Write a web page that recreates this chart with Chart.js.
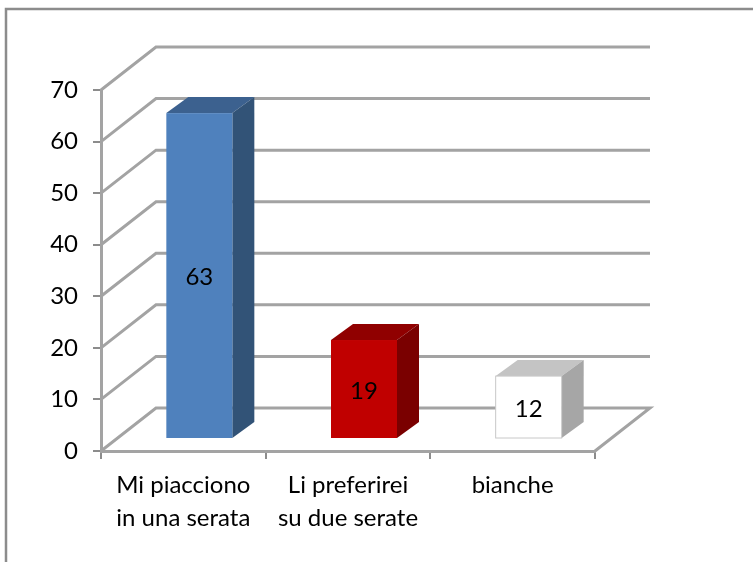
<!DOCTYPE html>
<html>
<head>
<meta charset="utf-8">
<style>
  html, body { margin: 0; padding: 0; background: #fff; }
  #wrap { position: absolute; left: 0; top: 0; width: 753px; height: 562px; }
</style>
<script src="https://cdn.jsdelivr.net/npm/chart.js@4"></script>
</head>
<body>
<div id="wrap"><canvas id="chart" width="753" height="562"></canvas></div>
<script>
const categories = [['Mi piacciono', 'in una serata'], ['Li preferirei', 'su due serate'], 'bianche'];
const values = [63, 19, 12];
const frontColors = ['#4f81bd', '#c00000', '#ffffff'];
const topColors = ['#3c618f', '#900000', '#c4c4c4'];
const sideColors = ['#325377', '#7a0000', '#a6a6a6'];
const yTicks = [0, 10, 20, 30, 40, 50, 60, 70];

const GRID = '#a3a3a3';
const FONT = 'Lato, "Open Sans", sans-serif';
const wallDx = 55, wallDy = -43;   // depth of the back wall
const barDx = 16, barDy = -13;     // bar front sits this far inside the floor
const barW = 66, depthDx = 22, depthDy = -16;

const frame = {
  id: 'frame',
  beforeDraw(c) {
    const g = c.ctx;
    g.save();
    g.strokeStyle = '#8c8c8c';
    g.lineWidth = 2.5;
    g.beginPath();
    g.moveTo(6, 562);
    g.lineTo(6, 9);
    g.lineTo(753, 9);
    g.stroke();
    g.restore();
  }
};

// 3D walls: grid lines drawn on the back wall and the slanted side wall
const walls = {
  id: 'walls',
  beforeDatasetsDraw(c) {
    const g = c.ctx, x = c.scales.x, y = c.scales.y;
    const left = x.left, right = x.right;
    g.save();
    g.strokeStyle = GRID;
    g.lineWidth = 3;
    yTicks.forEach(t => {
      const py = y.getPixelForValue(t);
      g.beginPath();
      g.moveTo(left, py);
      g.lineTo(left + wallDx, py + wallDy);
      g.lineTo(right + wallDx, py + wallDy);
      if (t === 0) g.lineTo(right, py);
      g.stroke();
    });
    g.restore();
  }
};

// draws each bar as a box, using the bar elements chart.js laid out
const box = {
  id: 'box',
  afterDatasetsDraw(c) {
    const g = c.ctx, meta = c.getDatasetMeta(0), y = c.scales.y;
    const base = y.getPixelForValue(0) + barDy;
    meta.data.forEach((b, i) => {
      const l = b.x - barW / 2 + barDx, r = l + barW;
      const t = b.y + barDy;
      g.save();
      g.fillStyle = topColors[i];
      g.beginPath();
      g.moveTo(l, t); g.lineTo(l + depthDx, t + depthDy); g.lineTo(r + depthDx, t + depthDy); g.lineTo(r, t);
      g.closePath(); g.fill();
      g.fillStyle = sideColors[i];
      g.beginPath();
      g.moveTo(r, t); g.lineTo(r + depthDx, t + depthDy); g.lineTo(r + depthDx, base + depthDy); g.lineTo(r, base);
      g.closePath(); g.fill();
      g.fillStyle = frontColors[i];
      g.fillRect(l, t, barW, base - t);
      if (i === 2) {
        g.strokeStyle = '#c8c8c8';
        g.lineWidth = 1;
        g.strokeRect(l, t, barW, base - t);
      }
      g.fillStyle = '#000';
      g.font = '24px ' + FONT;
      g.textAlign = 'center';
      g.textBaseline = 'middle';
      g.fillText(String(values[i]), (l + r) / 2, (t + base) / 2 + 2);
      g.restore();
    });
  }
};

new Chart(document.getElementById('chart'), {
  type: 'bar',
  data: {
    labels: categories,
    datasets: [{ data: values, backgroundColor: 'rgba(0,0,0,0)', borderWidth: 0 }]
  },
  plugins: [frame, walls, box],
  options: {
    responsive: false,
    animation: false,
    layout: { padding: { left: 21, right: 158, top: 90, bottom: 0 } },
    plugins: { legend: { display: false }, tooltip: { enabled: false } },
    scales: {
      x: {
        afterFit(s) { s.height = 111; },
        grid: { drawOnChartArea: false, color: GRID, lineWidth: 2, tickLength: 8, tickColor: '#8c8c8c', offset: true },
        border: { color: GRID, width: 3 },
        ticks: { color: '#000', padding: 10, maxRotation: 0, autoSkip: false, font: { size: 24, family: FONT, lineHeight: 1.38 } }
      },
      y: {
        position: 'left',
        min: 0, max: 70,
        afterFit(s) { s.width = 80; },
        afterBuildTicks(s) { s.ticks = yTicks.map(v => ({ value: v })); },
        grid: { drawOnChartArea: false, color: GRID, lineWidth: 2, tickLength: 8, tickColor: '#8c8c8c' },
        border: { color: GRID, width: 3 },
        ticks: { color: '#000', padding: 15, font: { size: 24, family: FONT } }
      }
    }
  }
});
</script>
</body>
</html>
